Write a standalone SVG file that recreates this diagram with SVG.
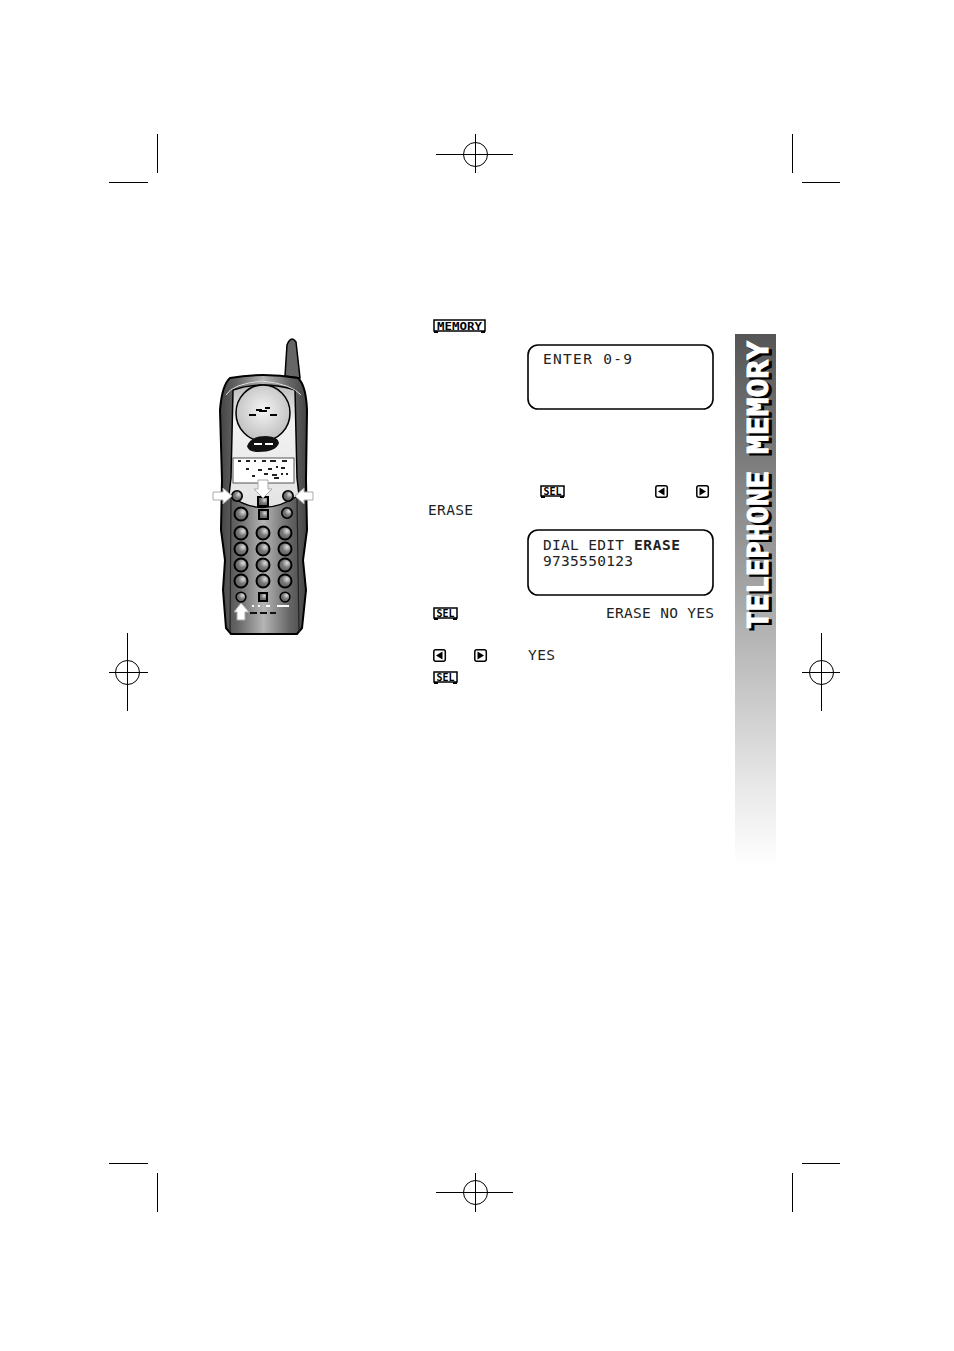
<svg xmlns="http://www.w3.org/2000/svg" xmlns:xlink="http://www.w3.org/1999/xlink" width="954" height="1351" viewBox="0 0 954 1351">
<style>
.m{stroke:#000;stroke-width:1;fill:none}
.lcd{font-family:"DejaVu Sans Mono",monospace;font-size:14.5px;fill:#222}
.box{fill:#fff;stroke:#000;stroke-width:1.6}
.key{fill:url(#kg);stroke:#000;stroke-width:2}
.arr{fill:#fff;stroke:#aaa;stroke-width:1}
.ico{fill:#fff;stroke:#000;stroke-width:1.5}
.ict{font-family:"DejaVu Sans Mono",monospace;font-weight:bold;font-size:10px;fill:#000}
.side{font-family:"DejaVu Sans Mono",monospace;font-weight:bold;font-size:28px}
.sh{fill:#000;stroke:#000;stroke-width:1.5}
.fr{fill:#fff;stroke:#fff;stroke-width:1}
</style>
<defs>
<linearGradient id="sg" x1="0" y1="0" x2="0" y2="1"><stop offset="0" stop-color="#555"/><stop offset="0.5" stop-color="#a8a8a8"/><stop offset="0.85" stop-color="#e8e8e8"/><stop offset="1" stop-color="#fff"/></linearGradient>
<linearGradient id="bg" x1="0" y1="0" x2="1" y2="0"><stop offset="0" stop-color="#444"/><stop offset="0.2" stop-color="#666"/><stop offset="0.5" stop-color="#b4b4b4"/><stop offset="0.8" stop-color="#666"/><stop offset="1" stop-color="#444"/></linearGradient>
<linearGradient id="fg" x1="0" y1="0" x2="0" y2="1"><stop offset="0" stop-color="#bbb"/><stop offset="0.3" stop-color="#f2f2f2"/><stop offset="1" stop-color="#e4e4e4"/></linearGradient>
<radialGradient id="kg" cx="0.65" cy="0.35" r="0.8"><stop offset="0" stop-color="#ddd"/><stop offset="0.45" stop-color="#777"/><stop offset="1" stop-color="#555"/></radialGradient>
<radialGradient id="spg" cx="0.5" cy="0.45" r="0.6"><stop offset="0" stop-color="#f4f4f4"/><stop offset="1" stop-color="#bbb"/></radialGradient>
<g id="sel"><path class="ico" d="M1 1H24V11H1Z"/><path d="M1 12H5M20 12H24" stroke="#000" stroke-width="2"/><text class="ict" x="3.500" y="9.500" textLength="18" lengthAdjust="spacingAndGlyphs">SEL</text></g>
<g id="la"><rect class="ico" x="0.800" y="0.800" width="11.500" height="11.500" rx="2"/><path d="M9.500 2.500V10.500L3 6.500Z" fill="#000"/></g>
<g id="ra"><rect class="ico" x="0.800" y="0.800" width="11.500" height="11.500" rx="2"/><path d="M3.500 2.500V10.500L10 6.500Z" fill="#000"/></g>
<circle id="k" class="key" r="6.500"/>
</defs>
<rect width="954" height="1351" fill="#fff"/>
<g id="crop-marks">
<path class="m" d="M157.500 134V173M109 182.500H148M792.500 134V173M802 182.500H840M109 1163.500H148M157.500 1173V1212M802 1163.500H840M792.500 1173V1212"/>
<path class="m" d="M436 154.500H513M475.500 134V173M436 1192.500H513M475.500 1173V1212M109 672.500H148M127.500 633V711M802 672.500H840M821.500 633V711"/>
<circle class="m" cx="475.500" cy="154.500" r="12"/><circle class="m" cx="475.500" cy="1192.500" r="12"/><circle class="m" cx="127.500" cy="672.500" r="12"/><circle class="m" cx="821.500" cy="672.500" r="12"/>
</g>
<g id="phone">
<path d="M285 376L287 345Q291 335 296 342L300 378Z" fill="#666" stroke="#000" stroke-width="1.500"/>
<path d="M230 378Q262 372 298 378Q306 385 307 410L306 480L307 530L303 560L306 590L302 628L297 634H231L226 628L223 590L225 560L221 530L222 480L220 410Q222 385 230 378Z" fill="url(#bg)" stroke="#000" stroke-width="2"/>
<path d="M233 390Q262 380 295 390L297 478L299 495Q262 520 229 495L231 478Z" fill="url(#fg)" stroke="#000" stroke-width="1.500"/>
<path d="M231 497L230 632M297 497L299 632" stroke="#222" stroke-width="1.200" fill="none"/>
<path d="M226 395Q232 384 262 381Q292 384 301 395" stroke="#ddd" stroke-width="1" fill="none"/>
<ellipse cx="263" cy="413" rx="27" ry="28" fill="url(#spg)" stroke="#000" stroke-width="1.500"/>
<path d="M249 415H256M259 411H267M270 415H277M256 410H262M265 408H270" stroke="#000" stroke-width="2"/>
<path d="M247 446Q251 436 266 436Q279 437 279 443Q276 452 258 452Q248 452 247 446Z" fill="#111"/>
<path d="M254 444H262M265 444H273" stroke="#fff" stroke-width="2"/>
<rect x="233" y="458" width="61" height="25" fill="#fff" stroke="#555" stroke-width="1"/>
<path d="M238 461H241M246 461H250M254 461H256M262 461H266M270 461H276M282 461H287M246 469H249M258 470H262M268 469H272M276 467H278M281 468H285M252 476H255M264 474H268M272 475H277M281 474H283M286 474H288M274 478H279" stroke="#222" stroke-width="2"/>
<use xlink:href="#k" transform="translate(237 496) scale(.8)"/>
<use xlink:href="#k" transform="translate(288 496) scale(.8)"/>
<rect class="key" x="258" y="497" width="10" height="9"/>
<use xlink:href="#k" transform="translate(241 514) scale(1)"/>
<rect class="key" x="259" y="510" width="9" height="9"/>
<use xlink:href="#k" transform="translate(287 513) scale(.8)"/>
<use xlink:href="#k" x="241" y="533"/><use xlink:href="#k" x="263" y="533"/><use xlink:href="#k" x="285" y="533"/>
<use xlink:href="#k" x="241" y="549"/><use xlink:href="#k" x="263" y="549"/><use xlink:href="#k" x="285" y="549"/>
<use xlink:href="#k" x="241" y="565"/><use xlink:href="#k" x="263" y="565"/><use xlink:href="#k" x="285" y="565"/>
<use xlink:href="#k" x="241" y="581"/><use xlink:href="#k" x="263" y="581"/><use xlink:href="#k" x="285" y="581"/>
<use xlink:href="#k" transform="translate(241 597) scale(.75)"/>
<rect class="key" x="259" y="593" width="8" height="8"/>
<use xlink:href="#k" transform="translate(285 597) scale(.75)"/>
<path d="M252 606H254M258 606H260M266 606H270M277 606H289" stroke="#fff" stroke-width="2"/>
<path d="M250 613H257M260 613H267M270 613H276" stroke="#111" stroke-width="2"/>
<path class="arr" d="M213 492H223V488L232 496L223 504V500H213Z"/>
<path class="arr" d="M313 492H304V488L295 496L304 504V500H313Z"/>
<path class="arr" d="M258 480H268V489H272L263 498L254 489H258Z"/>
<path class="arr" d="M237 620V612H234L241 603L249 612H245V620Z"/>
</g>
<g id="memory-icon"><path class="ico" d="M434 320H485V331H434Z"/><path d="M434 332H438M481 332H485" stroke="#000" stroke-width="2"/><text class="ict" x="437" y="329.500" textLength="45" lengthAdjust="spacingAndGlyphs">MEMORY</text></g>
<g id="display-1"><rect class="box" x="528" y="345" width="185" height="64" rx="10"/><text class="lcd" x="543" y="364" textLength="89">ENTER 0-9</text></g>
<g id="display-2"><rect class="box" x="528" y="530" width="185" height="65" rx="10"/><text class="lcd" x="543" y="550" textLength="81">DIAL EDIT</text><text class="lcd" x="634" y="550" textLength="46" font-weight="bold">ERASE</text><text class="lcd" x="543" y="566" textLength="90">9735550123</text></g>
<g id="step-icons">
<use xlink:href="#sel" x="540" y="485"/><use xlink:href="#la" x="655" y="485"/><use xlink:href="#ra" x="696" y="485"/>
<use xlink:href="#sel" x="433" y="607"/><use xlink:href="#la" x="433" y="649"/><use xlink:href="#ra" x="474" y="649"/><use xlink:href="#sel" x="433" y="671"/>
</g>
<g id="step-labels">
<text class="lcd" x="428" y="515" textLength="45">ERASE</text>
<text class="lcd" x="606" y="618" textLength="108">ERASE NO YES</text>
<text class="lcd" x="528" y="660" textLength="27">YES</text>
</g>
<g id="sidebar">
<rect x="735" y="334" width="41" height="532" fill="url(#sg)"/>
<text class="side sh" transform="translate(771 631) rotate(-90)" textLength="158" lengthAdjust="spacingAndGlyphs">TELEPHONE</text>
<text class="side sh" transform="translate(771 456) rotate(-90)" textLength="113" lengthAdjust="spacingAndGlyphs">MEMORY</text>
<text class="side fr" transform="translate(768 629) rotate(-90)" textLength="158" lengthAdjust="spacingAndGlyphs">TELEPHONE</text>
<text class="side fr" transform="translate(768 454) rotate(-90)" textLength="113" lengthAdjust="spacingAndGlyphs">MEMORY</text>
</g>
</svg>
